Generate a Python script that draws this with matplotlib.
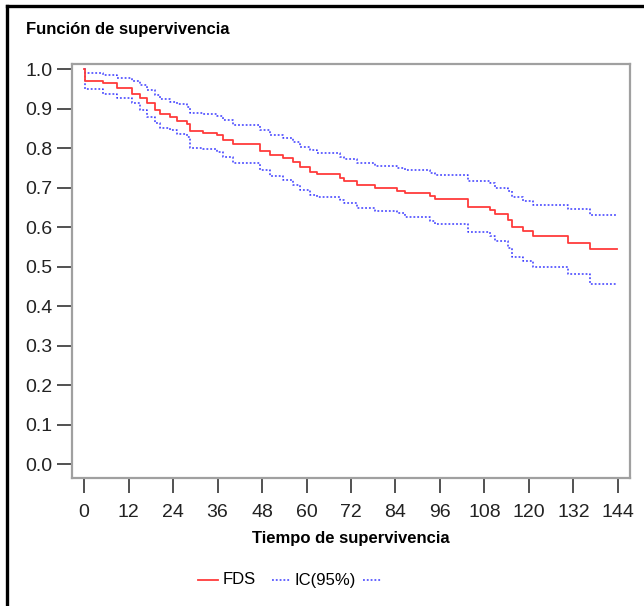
import matplotlib
matplotlib.use("Agg")
import matplotlib.pyplot as plt
from matplotlib.lines import Line2D

plt.rcParams["font.family"] = ["Liberation Sans Narrow", "Liberation Sans", "DejaVu Sans"]

# step change times (months) shared by the survival estimate and its CI
times = [0, 0.4, 5.0, 8.8, 12.9, 15.1, 16.9, 19.1, 20.5, 23.2, 25.0, 27.7, 28.6,
         32.2, 35.8, 37.6, 40.3, 47.5, 50.2, 53.7, 56.4, 58.3, 60.9, 62.8, 69.0,
         70.0, 73.5, 78.5, 84.3, 86.6, 93.3, 94.7, 103.6, 109.5, 110.8, 114.4,
         115.3, 118.5, 121.2, 130.6, 136.5, 143.7]
fds = [1.0, 0.970, 0.964, 0.952, 0.938, 0.926, 0.913, 0.896, 0.886, 0.879, 0.868,
       0.861, 0.843, 0.838, 0.833, 0.820, 0.809, 0.792, 0.782, 0.775, 0.765, 0.753,
       0.740, 0.733, 0.725, 0.716, 0.706, 0.698, 0.691, 0.685, 0.678, 0.671, 0.651,
       0.643, 0.633, 0.618, 0.601, 0.591, 0.577, 0.560, 0.544, 0.544]
ic_upper = [1.0, 0.991, 0.985, 0.976, 0.970, 0.959, 0.947, 0.934, 0.923, 0.917,
            0.912, 0.905, 0.888, 0.885, 0.880, 0.872, 0.858, 0.846, 0.833, 0.825,
            0.816, 0.803, 0.795, 0.787, 0.778, 0.771, 0.761, 0.754, 0.750, 0.744,
            0.737, 0.732, 0.717, 0.711, 0.700, 0.690, 0.675, 0.666, 0.656, 0.645,
            0.630, 0.630]
ic_lower = [1.0, 0.949, 0.938, 0.926, 0.913, 0.896, 0.879, 0.863, 0.850, 0.846,
            0.835, 0.829, 0.800, 0.797, 0.791, 0.776, 0.763, 0.744, 0.729, 0.719,
            0.706, 0.694, 0.681, 0.677, 0.668, 0.660, 0.647, 0.641, 0.635, 0.625,
            0.616, 0.607, 0.588, 0.576, 0.565, 0.546, 0.525, 0.514, 0.500, 0.480,
            0.457, 0.457]

x_ticks = list(range(0, 145, 12))
y_ticks = [i / 10 for i in range(11)]

RED = "#ff3b3b"
BLUE = "#3a3aff"
DOTS = (0, (1.2, 1.3))
W, H = 644, 606

fig = plt.figure(figsize=(6.44, 6.06), dpi=100)
ax = fig.add_axes([72 / W, 1 - 478 / H, 558 / W, 414 / H])

ax.step(times, ic_upper, where="post", color=BLUE, lw=1.1, ls=DOTS)
ax.step(times, ic_lower, where="post", color=BLUE, lw=1.1, ls=DOTS)
ax.step(times, fds, where="post", color=RED, lw=1.3)

ax.set_xlim(-3.24, 147.24)
ax.set_ylim(-0.0354, 1.0127)
ax.set_xticks(x_ticks)
ax.set_yticks(y_ticks)
ax.set_yticklabels([f"{v:.1f}" for v in y_ticks])

for s in ax.spines.values():
    s.set_color("#a0a0a0")
    s.set_linewidth(1.6)
ax.tick_params(axis="both", direction="out", length=11, width=1.2, color="#333333",
               labelsize=14, labelcolor="#222222")
ax.tick_params(axis="y", pad=3)
ax.tick_params(axis="x", pad=8)

ax.set_xlabel("Tiempo de supervivencia", fontsize=12, fontweight="bold", labelpad=7)

fig.text(26 / W, 1 - 34 / H, "Función de supervivencia", fontsize=12,
         fontweight="bold", va="baseline", ha="left")

# legend row: red line FDS, dotted IC(95%) dotted
ly = 1 - 580 / H
fig.add_artist(Line2D([198 / W, 218 / W], [ly, ly], transform=fig.transFigure,
                      color=RED, lw=1.3))
fig.text(223 / W, ly, "FDS", fontsize=12, va="center", ha="left")
fig.add_artist(Line2D([272 / W, 290 / W], [ly, ly], transform=fig.transFigure,
                      color=BLUE, lw=1.1, ls=DOTS))
fig.text(294 / W, ly, "IC(95%)", fontsize=12, va="center", ha="left")
fig.add_artist(Line2D([363 / W, 381 / W], [ly, ly], transform=fig.transFigure,
                      color=BLUE, lw=1.1, ls=DOTS))

# black frame on top and left edges
fig.add_artist(Line2D([7 / W, 7 / W], [0, 1 - 6 / H], transform=fig.transFigure,
                      color="black", lw=2.4))
fig.add_artist(Line2D([7 / W, 1], [1 - 6 / H, 1 - 6 / H], transform=fig.transFigure,
                      color="black", lw=2.4))

fig.savefig("out.png", dpi=100)
